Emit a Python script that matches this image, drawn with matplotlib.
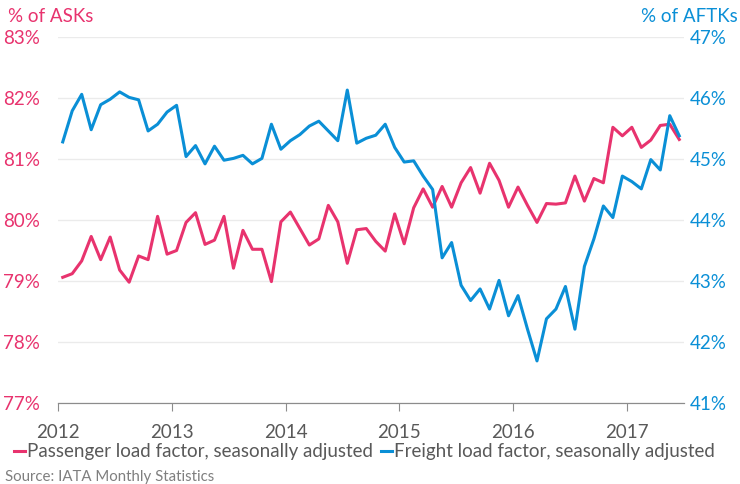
import numpy as np
import matplotlib.pyplot as plt

plt.rcParams['font.family'] = ['Lato', 'DejaVu Sans']

# monthly data, Jan 2012 - Jun 2017
start_year = 2012
passenger = [79.06, 79.12, 79.33, 79.73, 79.35, 79.72, 79.18, 78.98, 79.41, 79.35, 80.06, 79.44,
             79.50, 79.96, 80.12, 79.60, 79.67, 80.06, 79.21, 79.83, 79.52, 79.52, 78.99, 79.97,
             80.13, 79.86, 79.59, 79.69, 80.24, 79.97, 79.29, 79.84, 79.86, 79.65, 79.49, 80.10,
             79.61, 80.20, 80.51, 80.21, 80.55, 80.21, 80.61, 80.86, 80.44, 80.93, 80.65, 80.21,
             80.54, 80.24, 79.96, 80.27, 80.26, 80.28, 80.72, 80.31, 80.68, 80.61, 81.52, 81.38,
             81.52, 81.19, 81.31, 81.55, 81.57, 81.32]
freight = [45.28, 45.79, 46.06, 45.48, 45.89, 45.98, 46.10, 46.01, 45.97, 45.46, 45.57, 45.77,
           45.88, 45.04, 45.22, 44.92, 45.21, 44.98, 45.01, 45.06, 44.92, 45.01, 45.57, 45.16,
           45.30, 45.40, 45.54, 45.62, 45.46, 45.30, 46.13, 45.26, 45.34, 45.39, 45.57, 45.19,
           44.95, 44.97, 44.72, 44.50, 43.38, 43.63, 42.93, 42.68, 42.87, 42.54, 43.01, 42.43,
           42.76, 42.21, 41.69, 42.38, 42.54, 42.91, 42.21, 43.24, 43.69, 44.23, 44.04, 44.72,
           44.63, 44.51, 44.99, 44.82, 45.71, 45.38]
years = [2012, 2013, 2014, 2015, 2016, 2017]
left_ticks = [77, 78, 79, 80, 81, 82, 83]
right_ticks = [41, 42, 43, 44, 45, 46, 47]

pink = '#E8336E'
blue = '#0A8FD6'
grey = '#595959'
fs = 13.5

# mid-month positions
x = start_year + (np.arange(len(passenger)) + 0.5) / 12

fig = plt.figure(figsize=(7.4, 4.84), dpi=100)
ax = fig.add_axes([58 / 740, 1 - 403 / 484, 626 / 740, 366 / 484])
ax2 = ax.twinx()

ax.plot(x, passenger, color=pink, lw=2.2, zorder=3)
ax2.plot(x, freight, color=blue, lw=2.2, zorder=3)

ax.set_xlim(2012, 2012 + len(passenger) / 12)
ax.set_ylim(77, 83)
ax2.set_ylim(41, 47)
ax.set_yticks(left_ticks)
ax.set_yticklabels([f'{v}%' for v in left_ticks], color=pink, fontsize=fs)
ax2.set_yticks(right_ticks)
ax2.set_yticklabels([f'{v}%' for v in right_ticks], color=blue, fontsize=fs)
ax.set_xticks(years)
ax.set_xticklabels([str(y) for y in years], color=grey, fontsize=fs)

ax.grid(axis='y', color='#EBEBEB', lw=1)
ax.set_axisbelow(True)
for a in (ax, ax2):
    for s in ['top', 'left', 'right']:
        a.spines[s].set_visible(False)
    a.spines['bottom'].set_color('#8C8C8C')
ax.tick_params(axis='y', length=0, pad=13)
ax2.tick_params(axis='y', length=0, pad=4)
ax.tick_params(axis='x', length=6, color='#8C8C8C', pad=9)

fig.text(8 / 740, 1 - 17 / 484, '% of ASKs', color=pink, fontsize=fs, va='center', ha='left')
fig.text(738 / 740, 1 - 16 / 484, '% of AFTKs', color=blue, fontsize=fs, va='center', ha='right')

leg = fig.legend(['Passenger load factor, seasonally adjusted', 'Freight load factor, seasonally adjusted'],
                 loc='center left', bbox_to_anchor=(14 / 740, 1 - 452 / 484), ncol=2,
                 frameon=False, fontsize=fs, handlelength=0.6, handletextpad=0.1,
                 columnspacing=0.4, borderpad=0, borderaxespad=0)
leg.legend_handles[0].set_color(pink)
leg.legend_handles[1].set_color(blue)
for t in leg.get_texts():
    t.set_color(grey)

fig.text(5 / 740, 1 - 477 / 484, 'Source: IATA Monthly Statistics', color='#7F7F7F', fontsize=10.8,
         va='center', ha='left')

fig.savefig('out.png', dpi=100)
